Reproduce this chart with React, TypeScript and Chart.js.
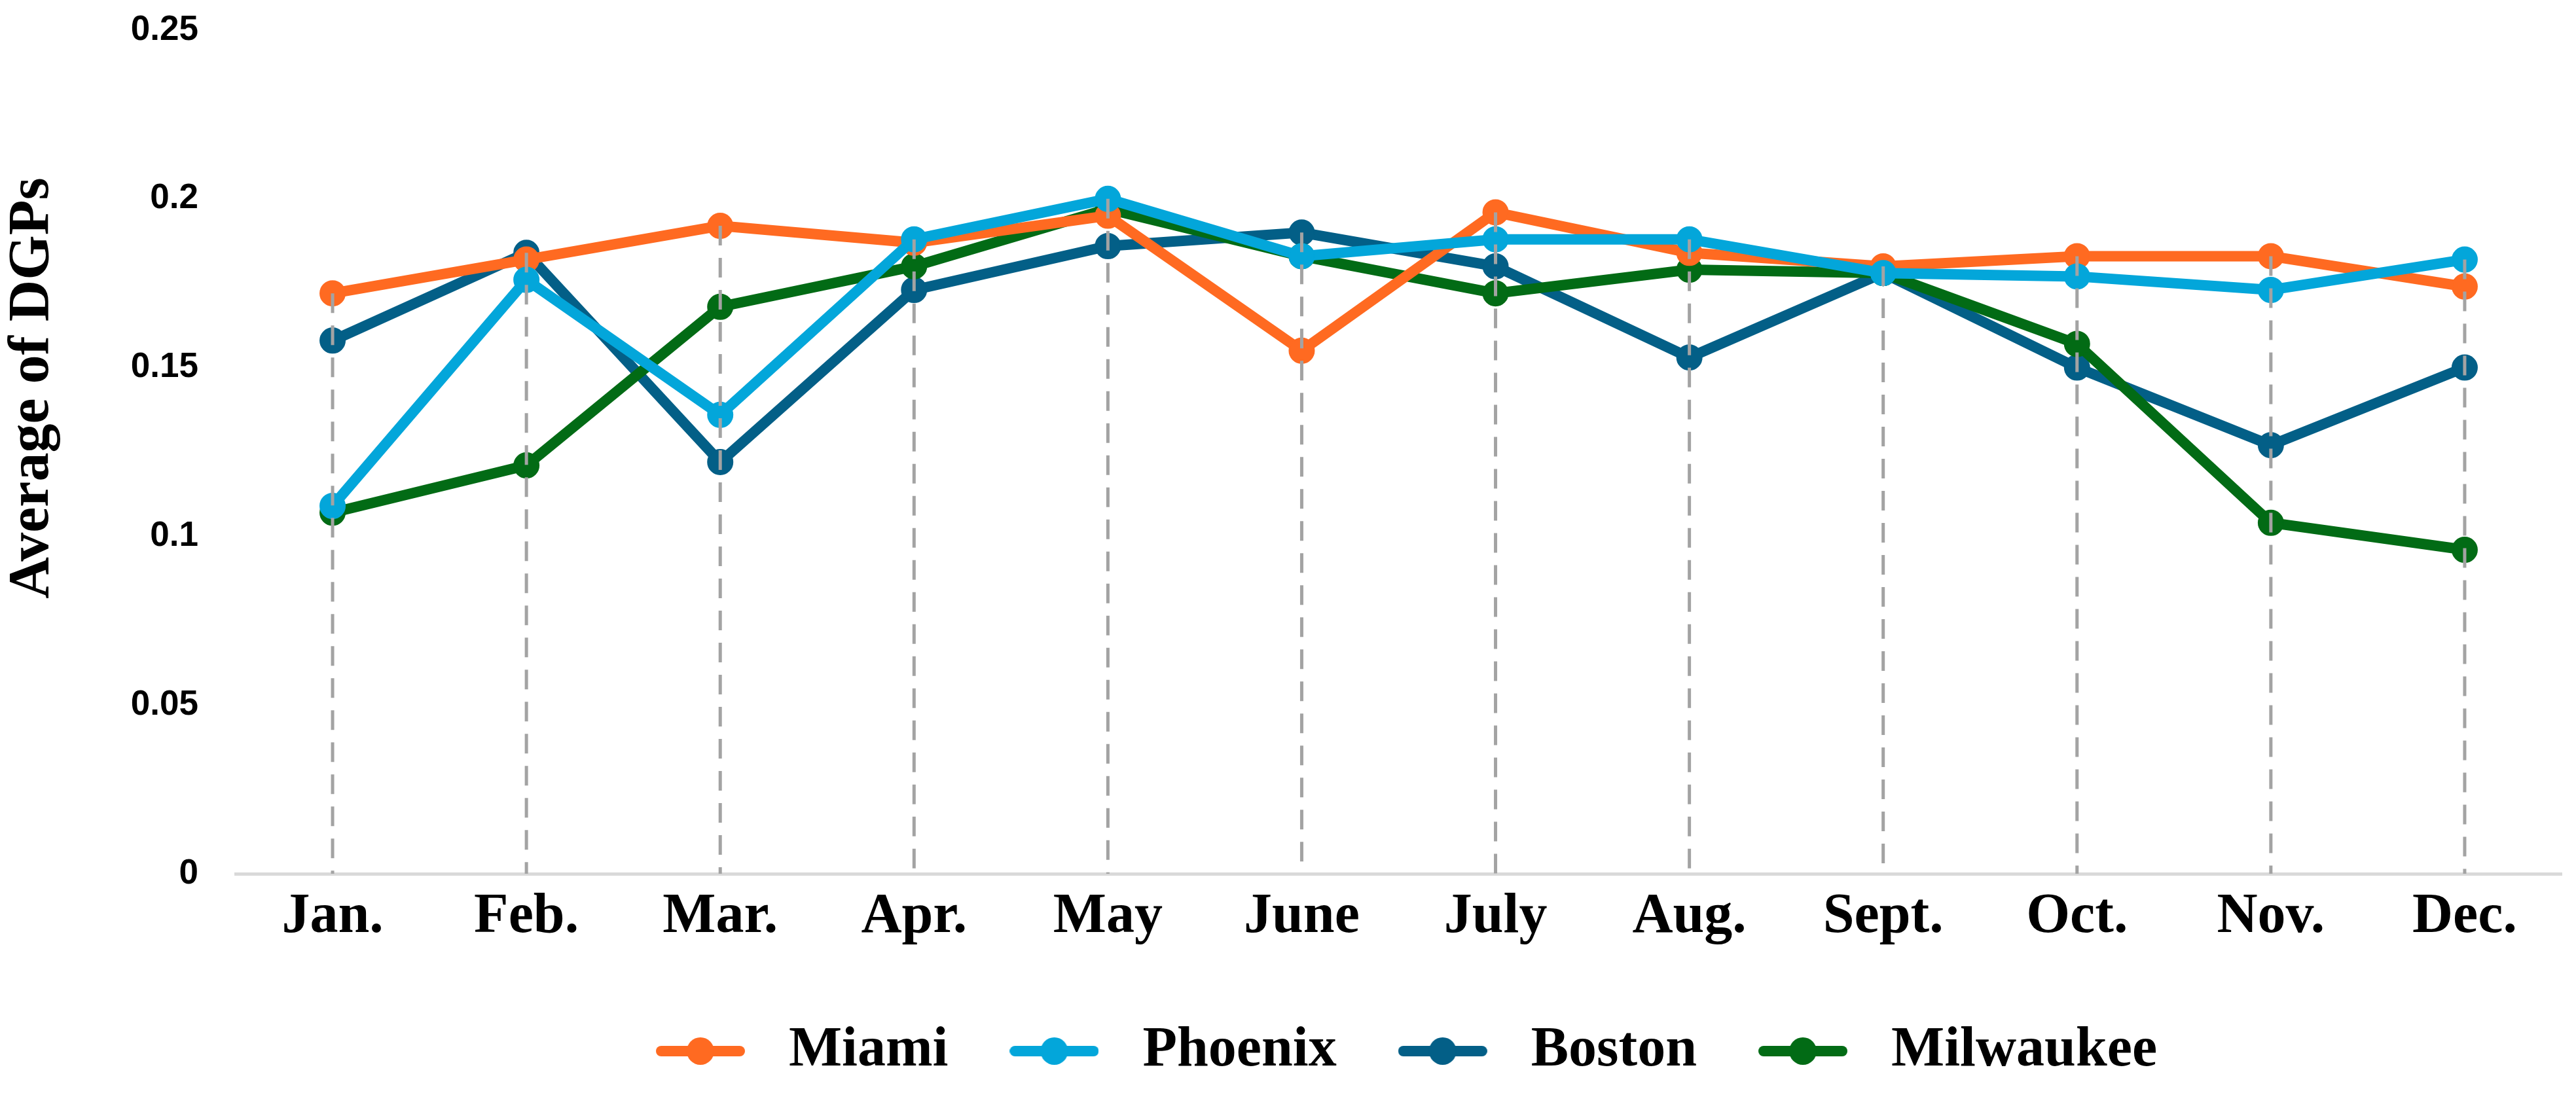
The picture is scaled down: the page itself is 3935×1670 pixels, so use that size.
import React, { useEffect, useRef } from "react";
import { Chart, registerables } from "chart.js";

Chart.register(...registerables);

const months = ["Jan.", "Feb.", "Mar.", "Apr.", "May", "June", "July", "Aug.", "Sept.", "Oct.", "Nov.", "Dec."];
const miami = [0.172, 0.182, 0.192, 0.187, 0.195, 0.155, 0.196, 0.184, 0.180, 0.183, 0.183, 0.174];
const phoenix = [0.109, 0.176, 0.136, 0.188, 0.200, 0.183, 0.188, 0.188, 0.178, 0.177, 0.173, 0.182];
const boston = [0.158, 0.184, 0.122, 0.173, 0.186, 0.190, 0.180, 0.153, 0.178, 0.150, 0.127, 0.150];
const milwaukee = [0.107, 0.121, 0.168, 0.180, 0.197, 0.183, 0.172, 0.179, 0.178, 0.157, 0.104, 0.096];
const yTicks = [0, 0.05, 0.1, 0.15, 0.2, 0.25];
const seriesNames = ["Miami", "Phoenix", "Boston", "Milwaukee"];
const seriesColors = ["#FF6A21", "#03A6DA", "#035F87", "#026B15"];
const yTitleText = "Average of DGPs";

function makeLegendIcon(color: string): HTMLCanvasElement {
  const c = document.createElement("canvas");
  c.width = 136;
  c.height = 46;
  const g = c.getContext("2d")!;
  g.strokeStyle = color;
  g.lineWidth = 16;
  g.lineCap = "round";
  g.beginPath();
  g.moveTo(8, 23);
  g.lineTo(128, 23);
  g.stroke();
  g.fillStyle = color;
  g.beginPath();
  g.arc(68, 23, 21, 0, Math.PI * 2);
  g.fill();
  return c;
}

const dropLines = {
  id: "dropLines",
  afterDatasetsDraw(chart: any) {
    const { ctx, scales } = chart;
    const x = scales.x;
    const y = scales.y;
    ctx.save();
    ctx.strokeStyle = "#a3a3a3";
    ctx.lineWidth = 5;
    ctx.setLineDash([30, 19]);
    months.forEach((_, i) => {
      const top = Math.max(...chart.data.datasets.map((d: any) => d.data[i]));
      const px = x.getPixelForValue(i);
      ctx.beginPath();
      ctx.moveTo(px, y.getPixelForValue(top));
      ctx.lineTo(px, y.bottom);
      ctx.stroke();
    });
    ctx.restore();
  },
};

const yTitle = {
  id: "yTitle",
  afterDraw(chart: any) {
    const { ctx } = chart;
    ctx.save();
    ctx.translate(50, 593);
    ctx.rotate(-Math.PI / 2);
    ctx.font = 'bold 88px "Liberation Serif"';
    ctx.fillStyle = "#000";
    ctx.textAlign = "center";
    ctx.textBaseline = "middle";
    ctx.fillText(yTitleText, 0, 0);
    ctx.restore();
  },
};

export default function App() {
  const ref = useRef<HTMLCanvasElement | null>(null);

  useEffect(() => {
    if (!ref.current) return;
    const icons = seriesColors.map(makeLegendIcon);
    const values = [miami, phoenix, boston, milwaukee];
    const drawOrder = [1, 0, 3, 2];
    const chart = new Chart(ref.current, {
      type: "line",
      data: {
        labels: months,
        datasets: seriesNames.map((name, i) => ({
          label: name,
          data: values[i],
          borderColor: seriesColors[i],
          backgroundColor: seriesColors[i],
          pointBackgroundColor: seriesColors[i],
          pointBorderColor: seriesColors[i],
          borderWidth: 16,
          pointRadius: 19,
          pointBorderWidth: 2,
          tension: 0,
          fill: false,
          order: drawOrder[i],
        })),
      },
      options: {
        animation: false,
        responsive: true,
        maintainAspectRatio: false,
        layout: { padding: { left: 0, right: 22, top: 46, bottom: 11 } },
        plugins: {
          tooltip: { enabled: false },
          legend: {
            position: "bottom",
            fullSize: false,
            labels: {
              usePointStyle: true,
              pointStyleWidth: 184,
              boxHeight: 46,
              padding: 70,
              color: "#000",
              font: { family: "'Liberation Serif'", weight: "bold", size: 86 },
              sort: (a: any, b: any) => a.datasetIndex - b.datasetIndex,
              generateLabels: (ch: any) => {
                const items = (Chart.defaults.plugins.legend.labels as any).generateLabels(ch);
                items.forEach((it: any) => {
                  it.pointStyle = icons[it.datasetIndex];
                });
                return items;
              },
            },
          },
        },
        scales: {
          x: {
            offset: true,
            grid: { display: false, drawTicks: false },
            border: { display: true, color: "#d9d9d9", width: 5 },
            ticks: {
              color: "#000",
              padding: 15,
              maxRotation: 0,
              autoSkip: false,
              font: { family: "'Liberation Serif'", weight: "bold", size: 86 },
            },
            afterFit: (s: any) => {
              s.height = 158;
            },
          },
          y: {
            min: 0,
            max: 0.25,
            grid: {
              display: true,
              drawOnChartArea: false,
              drawTicks: true,
              tickLength: 57,
              color: "rgba(0,0,0,0)",
            },
            border: { display: false },
            afterBuildTicks: (s: any) => {
              s.ticks = yTicks.map((v) => ({ value: v }));
            },
            ticks: {
              color: "#000",
              padding: 0,
              font: { family: "'Liberation Sans'", weight: "bold", size: 53 },
              callback: (v: any) => String(v),
            },
            afterFit: (s: any) => {
              s.width = 360;
            },
          },
        },
      },
      plugins: [dropLines, yTitle],
    });
    return () => chart.destroy();
  }, []);

  return (
    <div style={{ position: "absolute", left: 0, top: 0, width: 3935, height: 1670, background: "#fff" }}>
      <canvas ref={ref} />
    </div>
  );
}
